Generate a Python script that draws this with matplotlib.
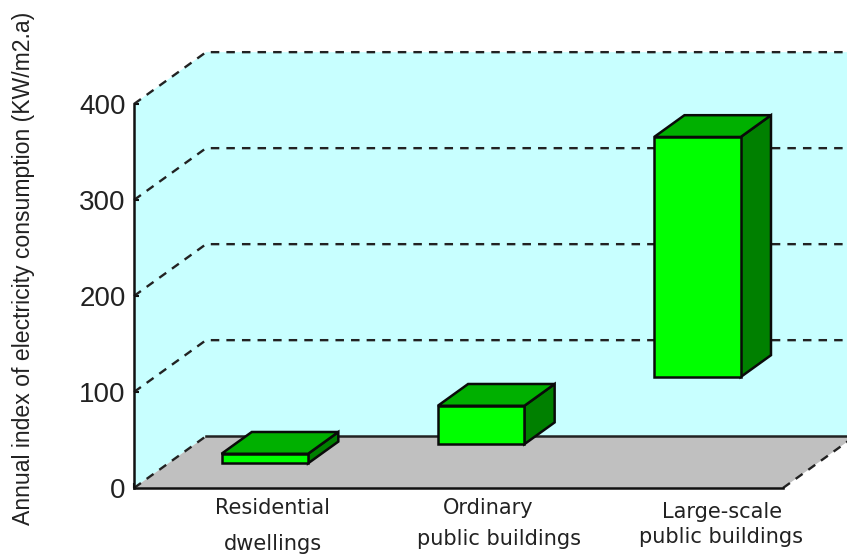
import matplotlib
matplotlib.use('Agg')
import matplotlib.pyplot as plt
from matplotlib.patches import Polygon

# consumption range for each building type, kWh per m2 per year
lows = [10, 30, 100]
highs = [20, 70, 350]
y_ticks = [0, 100, 200, 300, 400]
# tick label lines: (text, x offset, y offset) in pixels from the category centre
label_lines = [
    [('Residential', 30, -20), ('dwellings', 31, -56)],
    [('Ordinary', 30, -20), ('public buildings', 40, -51)],
    [('Large-scale', 47, -24), ('public buildings', 46, -49)],
]
y_title = 'Annual index of electricity consumption (KW/m2.a)'

DEPTH_X = 0.333
DEPTH_Y = 54
BAR_W = 0.4
BAR_SHIFT = 0.008
NEAR, FAR = 0.29, 0.71


def proj(x, v, d):
    # oblique projection, d = 0 front of the box, d = 1 back wall
    return (x + d * DEPTH_X, v + d * DEPTH_Y)


def draw_bar(ax, i, low, high):
    mid = i + 0.5 + BAR_SHIFT
    x0, x1 = mid - BAR_W / 2, mid + BAR_W / 2
    front = [proj(x0, low, NEAR), proj(x1, low, NEAR), proj(x1, high, NEAR), proj(x0, high, NEAR)]
    top = [proj(x0, high, NEAR), proj(x1, high, NEAR), proj(x1, high, FAR), proj(x0, high, FAR)]
    side = [proj(x1, low, NEAR), proj(x1, low, FAR), proj(x1, high, FAR), proj(x1, high, NEAR)]
    for pts, col in [(side, '#008000'), (top, '#00b000'), (front, '#00ff00')]:
        ax.add_patch(Polygon(pts, closed=True, fc=col, ec='#0a0a0a', lw=1.8, zorder=5, clip_on=False))


fig = plt.figure(figsize=(8.47, 5.54), dpi=100)
ax = fig.add_axes([134 / 847, 66 / 554, 649 / 847, 384 / 554])
ax.patch.set_visible(False)
ax.set_xlim(0, 3)
ax.set_ylim(0, 400)

dash = dict(color='#222222', lw=1.7, ls=(0, (3.6, 3.0)), clip_on=False)

# back wall and floor
wall = [proj(0, 0, 0), proj(0, 400, 0), proj(0, 400, 1), proj(3, 400, 1), proj(3, 0, 1), proj(0, 0, 1)]
floor = [proj(0, 0, 0), proj(3, 0, 0), proj(3, 0, 1), proj(0, 0, 1)]
ax.add_patch(Polygon(wall, closed=True, fc='#c8ffff', ec='none', zorder=1, clip_on=False))
ax.add_patch(Polygon(floor, closed=True, fc='#c0c0c0', ec='none', zorder=2, clip_on=False))

for v in y_ticks:
    pts = [proj(0, v, 0), proj(0, v, 1), proj(3, v, 1)]
    if v == 0:
        # floor edges
        ax.plot(*zip(*pts[:2]), zorder=3, **dash)
        ax.plot(*zip(proj(3, 0, 0), proj(3, 0, 1)), zorder=3, **dash)
        ax.plot(*zip(*pts[1:]), color='#222222', lw=1.8, zorder=3, clip_on=False)
    else:
        ax.plot(*zip(*pts), zorder=3, **dash)

for i in range(len(lows)):
    draw_bar(ax, i, lows[i], highs[i])

for s in ['top', 'right']:
    ax.spines[s].set_visible(False)
for s in ['left', 'bottom']:
    ax.spines[s].set_linewidth(1.8)
    ax.spines[s].set_color('#111111')
    ax.spines[s].set_zorder(6)

ax.set_xticks([0, 1, 2, 3])
ax.set_xticklabels([])
ax.set_yticks(y_ticks)
ax.tick_params(axis='both', direction='in', length=3.5, width=1.5, color='#111111')
ax.tick_params(axis='y', pad=6, labelsize=20, labelcolor='#222222')
for t in ax.get_yticklabels():
    t.set_family('Liberation Sans')

for i, lines in enumerate(label_lines):
    for txt, ox, oy in lines:
        ax.annotate(txt, (i + 0.5, 0), xytext=(ox, oy), textcoords='offset pixels',
                    ha='center', va='center', fontsize=15, family='DejaVu Sans',
                    color='#222222', annotation_clip=False)

fig.text(24 / 847, 1 - 268 / 554, y_title, rotation=90, ha='center', va='center',
         fontsize=16.6, family='Liberation Sans', color='#222222')

fig.savefig('out.png', dpi=100)
